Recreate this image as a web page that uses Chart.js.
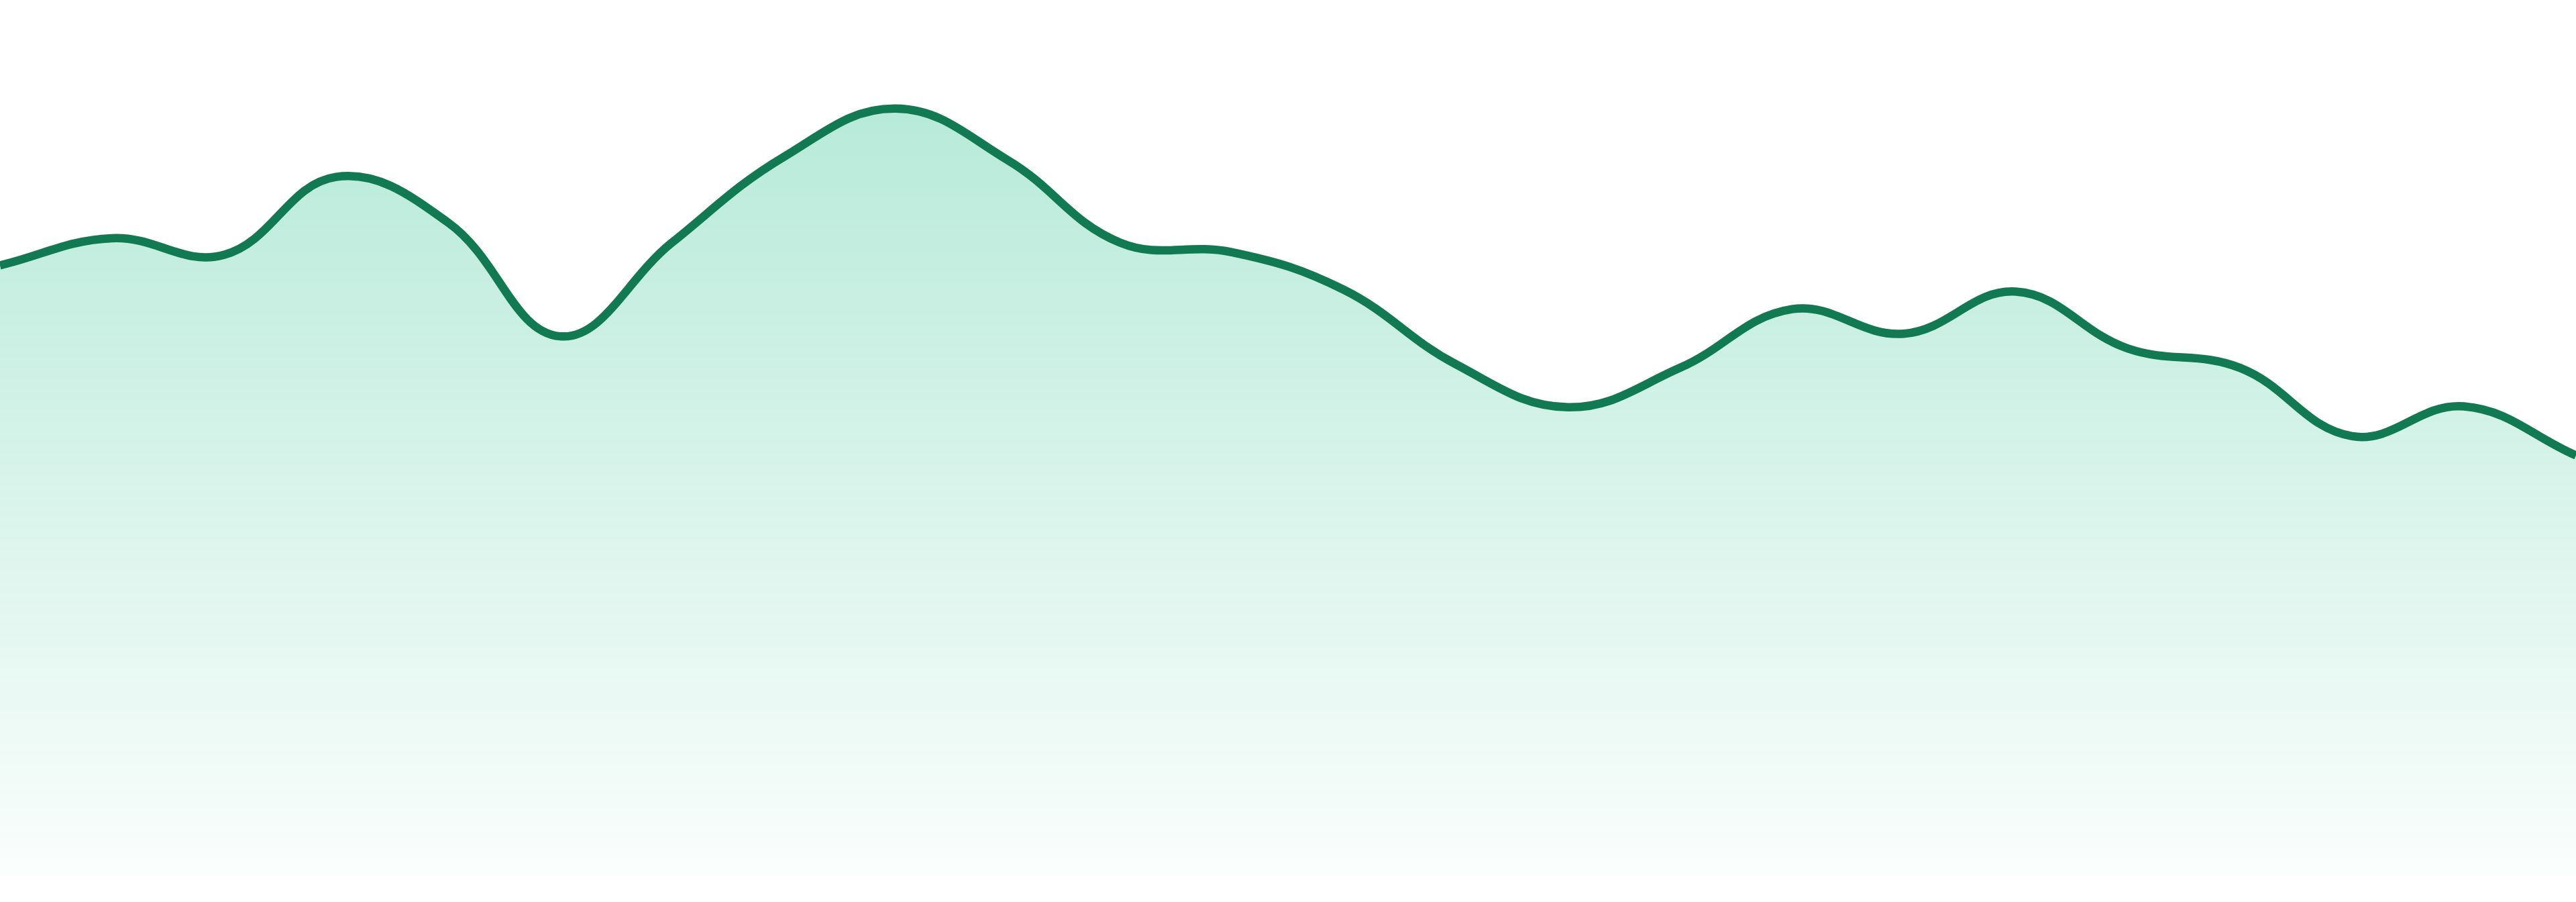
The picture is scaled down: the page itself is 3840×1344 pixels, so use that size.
<!DOCTYPE html>
<html>
<head>
<meta charset="utf-8">
<script src="https://cdn.jsdelivr.net/npm/chart.js@4/dist/chart.umd.min.js"></script>
<style>
    html, body { margin: 0; padding: 0; background: #ffffff; overflow: hidden; }
    #wrap { width: 3840px; height: 1344px; }
</style>
</head>
<body>
<div id="wrap"><canvas id="myChart"></canvas></div>
<script>
// one point per step (0..100 scale)
const labels = ["1", "2", "3", "4", "5", "6", "7", "8", "9", "10", "11", "12",
    "13", "14", "15", "16", "17", "18", "19", "20", "21", "22", "23", "24"]
const values = [69.7, 72.8, 70.9, 79.8, 74.6, 61.6, 72.3, 82.1, 87.6, 81.7, 72.3, 71.2,
    66.9, 58.4, 53.5, 58.0, 64.7, 61.9, 66.7, 60.2, 58.0, 50.2, 53.6, 48.0]

const lineColor = "#127a52"

function fillGradient(context) {
    const chart = context.chart
    const area = chart.chartArea
    if (!area) {
        return "rgba(16, 185, 129, 0.2)"
    }
    const g = chart.ctx.createLinearGradient(0, area.top, 0, area.bottom)
    g.addColorStop(0, "rgba(16, 185, 129, 0.34)")
    g.addColorStop(1, "rgba(16, 185, 129, 0.02)")
    return g
}

const ctx = document.getElementById("myChart").getContext("2d")
const chart = new Chart(ctx, {
    type: "line",
    data: {
        labels: labels,
        datasets: [{
            data: values,
            borderColor: lineColor,
            borderWidth: 12.5,
            backgroundColor: fillGradient,
            fill: "start",
            tension: 0.4,
            pointRadius: 0,
            pointHoverRadius: 0
        }]
    },
    options: {
        responsive: true,
        maintainAspectRatio: false,
        devicePixelRatio: 1,
        animation: false,
        layout: { padding: { top: 0, bottom: 39, left: 0, right: 0 } },
        plugins: {
            legend: { display: false },
            tooltip: { enabled: false }
        },
        scales: {
            x: { display: false, offset: false },
            y: { display: false, min: 0, max: 100 }
        }
    }
})
</script>
</body>
</html>
